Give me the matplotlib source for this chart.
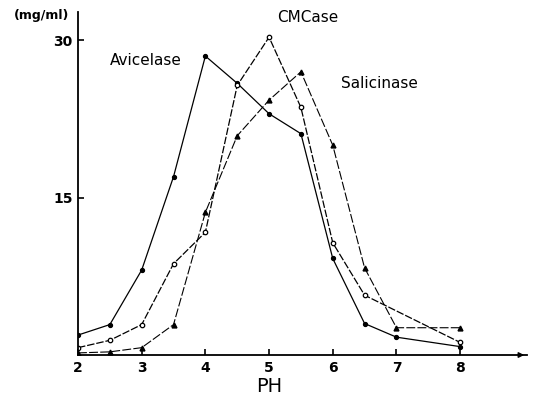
import matplotlib
matplotlib.use("Agg")
import matplotlib.pyplot as plt

# Data (activity in mg/ml vs pH)
avi_ph = [2, 2.5, 3, 3.5, 4, 4.5, 5, 5.5, 6, 6.5, 7, 8]
avi_val = [1.9, 2.9, 8.1, 17.0, 28.5, 25.9, 23.0, 21.1, 9.2, 3.0, 1.7, 0.8]

cmc_ph = [2, 2.5, 3, 3.5, 4, 4.5, 5, 5.5, 6, 6.5, 8]
cmc_val = [0.7, 1.4, 2.9, 8.7, 11.7, 25.7, 30.3, 23.6, 10.7, 5.7, 1.2]

sal_ph = [2, 2.5, 3, 3.5, 4, 4.5, 5, 5.5, 6, 6.5, 7, 8]
sal_val = [0.2, 0.3, 0.7, 2.9, 13.6, 20.9, 24.3, 27.0, 20.0, 8.3, 2.6, 2.6]

x_ticks = [2, 3, 4, 5, 6, 7, 8]
y_ticks = [15, 30]

fig = plt.figure(figsize=(5.33, 4.03), dpi=100)
ax = fig.add_axes([78/533, 48/403, 449/533, 343/403])

ax.plot(avi_ph, avi_val, color="black", lw=0.9, marker="o", ms=2.8)
ax.plot(cmc_ph, cmc_val, color="black", lw=0.9, ls=(0, (6, 1.5)), marker="o",
        ms=3.2, mfc="white", mec="black", mew=0.9)
ax.plot(sal_ph, sal_val, color="black", lw=0.8, ls=(0, (8, 2)), marker="^", ms=3.5)

ax.set_xlim(2, 9.05)
ax.set_ylim(0, 32.7)
for s in ["top", "right"]:
    ax.spines[s].set_visible(False)
ax.spines["left"].set_linewidth(1.3)
ax.spines["bottom"].set_linewidth(1.3)
ax.annotate("", xy=(9.05, 0), xytext=(8.9, 0), xycoords="data",
            arrowprops=dict(arrowstyle="-|>", color="black", lw=1.0,
                            mutation_scale=8), annotation_clip=False)

ax.set_xticks(x_ticks)
ax.set_xticklabels([str(v) for v in x_ticks], fontsize=10, fontweight="bold")
ax.set_yticks(y_ticks)
ax.set_yticklabels([str(v) for v in y_ticks], fontsize=10, fontweight="bold")
ax.tick_params(axis="both", direction="in", length=4, width=1.2, pad=4)

ax.text(5, -3.0, "PH", ha="center", va="center", fontsize=14)
fig.text(42/533, 1 - 15/403, "(mg/ml)", ha="center", va="center",
         fontsize=9, fontweight="bold")

ax.text(3.07, 28.1, "Avicelase", ha="center", va="center", fontsize=11)
ax.text(5.6, 32.2, "CMCase", ha="center", va="center", fontsize=11)
ax.text(6.74, 25.9, "Salicinase", ha="center", va="center", fontsize=11)

fig.savefig("out.png", dpi=100)
